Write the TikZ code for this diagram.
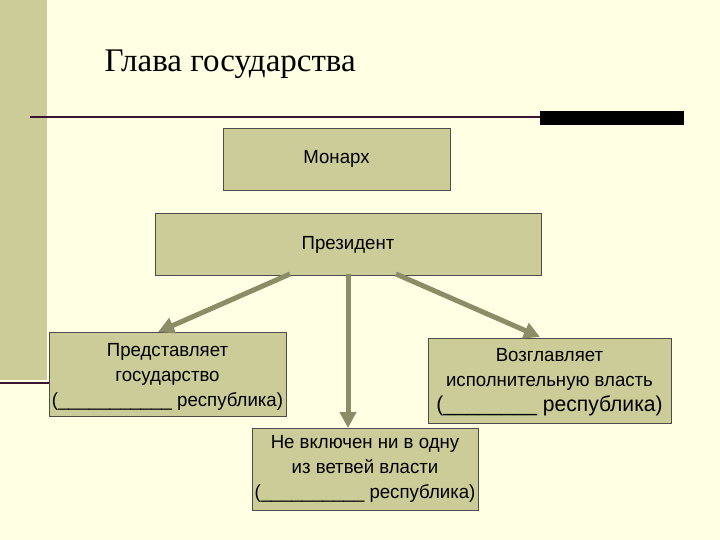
\documentclass[tikz,border=0pt]{standalone}
\usepackage{fontspec}
\setmainfont{Liberation Sans}
\newfontfamily\titlefont{Liberation Serif}
\usetikzlibrary{arrows.meta}
\definecolor{bg}{RGB}{255,255,228}
\definecolor{boxc}{RGB}{204,204,153}
\definecolor{arr}{RGB}{140,140,102}
\definecolor{purp}{RGB}{60,20,50}
\tikzset{x=1pt,y=-1pt,
 bx/.style={draw=black!70,fill=boxc,line width=0.8pt},
 tx/.style={font=\fontsize{19}{25}\selectfont,align=center,xscale=0.98,inner sep=0pt},
 ar/.style={draw=arr,line width=5pt,-{Triangle[length=16pt,width=16pt]}}}
\begin{document}
\begin{tikzpicture}
\fill[bg] (0,0) rectangle (720,540);
\useasboundingbox (0,0) rectangle (720,540);
\fill[boxc] (0,0) rectangle (47,380);
\draw[purp,line width=2pt] (0,383) -- (50,383);
\draw[purp,line width=1.2pt] (30,117) -- (545,117);
\fill[black] (540,111) rectangle (684,125);
\node[anchor=west,font=\titlefont\fontsize{33}{36}\selectfont] (title) at (101,64) {Глава государства};
\draw[bx] (223,128) rectangle (450,190);
\node[tx] (mon) at (336.5,159) {Монарх};
\draw[bx] (155,213) rectangle (541,275);
\node[tx] (pres) at (348,245) {Президент};
\draw[bx] (49,332) rectangle (286,416);
\node[tx] (left) at (167.5,377) {Представляет\\государство\\(\_\_\_\_\_\_\_\_\_\_\_ республика)};
\draw[bx] (428,338) rectangle (671,423);
\node[tx] (right) at (549.5,382) {Возглавляет\\исполнительную власть\\{\fontsize{21.5}{25}\selectfont(\_\_\_\_\_\_\_\_ республика)}};
\draw[bx] (252,428) rectangle (478,510);
\node[tx] (bot) at (365,469) {Не включен ни в одну\\из ветвей власти\\(\_\_\_\_\_\_\_\_\_\_ республика)};
\coordinate (p1) at (290,274); \coordinate (q1) at (158,332);
\coordinate (p2) at (348,274); \coordinate (q2) at (348,428);
\coordinate (p3) at (396,274); \coordinate (q3) at (540,337);
\draw[ar] (p1) -- (q1);
\draw[ar] (p2) -- (q2);
\draw[ar] (p3) -- (q3);
\end{tikzpicture}
\end{document}
